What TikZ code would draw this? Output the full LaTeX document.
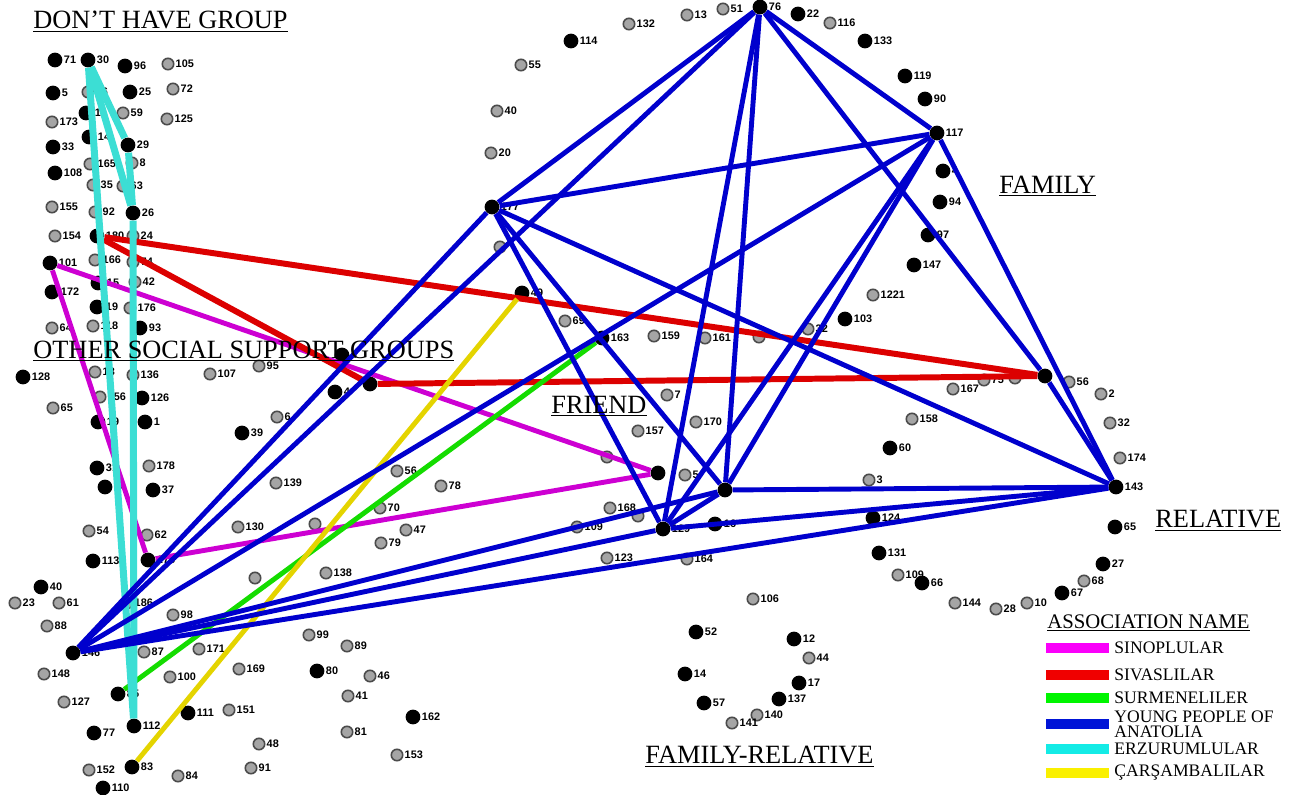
\documentclass[tikz,border=0pt]{standalone}
\usepackage{fontspec}
\setmainfont{Liberation Serif}
\newfontfamily\numfont{Liberation Sans}
\usetikzlibrary{positioning}
\definecolor{sinoc}{RGB}{205,0,210}
\definecolor{sivasc}{RGB}{220,0,0}
\definecolor{surmc}{RGB}{20,220,0}
\definecolor{ypac}{RGB}{0,0,205}
\definecolor{erzc}{RGB}{60,222,212}
\definecolor{carsc}{RGB}{228,212,0}
\definecolor{sinobar}{RGB}{250,0,250}
\definecolor{sivasbar}{RGB}{240,0,0}
\definecolor{surmbar}{RGB}{0,245,0}
\definecolor{ypabar}{RGB}{0,20,215}
\definecolor{erzbar}{RGB}{20,235,230}
\definecolor{carsbar}{RGB}{250,240,0}
\definecolor{dotgray}{RGB}{165,165,165}
\definecolor{rimgray}{RGB}{75,75,75}

\begin{document}
\begin{tikzpicture}[x=0.02cm, y=-0.02cm,
  bdot/.style={circle, fill=black, inner sep=0pt, minimum size=8.4pt, label distance=0.4pt},
  gdot/.style={circle, fill=dotgray, draw=rimgray, line width=0.9pt, inner sep=0pt, minimum size=6.5pt, label distance=0.4pt},
  lbl/.style={font=\numfont\bfseries\fontsize{6.2}{6.2}\selectfont, inner sep=0.5pt},
  ttl/.style={font=\fontsize{15}{15}\selectfont, inner sep=0pt, anchor=base west},
  sino/.style={draw=sinoc, line width=2.8pt},
  sivas/.style={draw=sivasc, line width=3.4pt},
  surm/.style={draw=surmc, line width=2.8pt},
  ypa/.style={draw=ypac, line width=2.8pt},
  erz/.style={draw=erzc, line width=4pt},
  cars/.style={draw=carsc, line width=2.8pt},
  bar/.style={minimum width=1.26cm, minimum height=0.21cm, inner sep=0pt},
  legtxt/.style={font=\fontsize{10}{7.6}\selectfont, inner sep=0pt, anchor=west, align=left}]
\useasboundingbox (0,0) rectangle (1289,795);

% members without an association
\foreach \nm/\lb/\x/\y in {g105/105/168/64, g16a/16/88/92, g72/72/173/89, g59/59/123/113,
  g125/125/167/119, g173/173/52/122, g165/165/90/164, g8/8/132/163, g35/35/93/185,
  g63/63/123/186, g155/155/52/207, g92/92/95/212, g154/154/55/236, g24/24/133/236,
  g166/166/95/260, g74/74/133/262, g42/42/135/282, g176/176/130/308, g64/64/52/328,
  g118/118/93/326, g13/13/95/372, g136/136/133/375, g65b/65/53/408, g156/156/100/397,
  g107/107/210/374, g178/178/149/466, g54/54/89/531, g62/62/147/535, g23/23/15/603,
  g61/61/59/603, g186/186/127/603, g98/98/173/615, g88/88/47/626, g87/87/144/652,
  g171/171/199/649, g148/148/44/674, g100/100/170/677, g169/169/239/669, g127/127/64/702,
  g151/151/229/710, g152/152/89/770, g84/84/178/776, g99/99/309/635, g89/89/347/646,
  g46/46/370/676, g41/41/348/696, g81/81/347/732, g48/48/259/744, g153/153/397/755,
  g91/91/251/768, g95/95/259/366, g6/6/277/417, g139/139/276/483, g56/56/397/471,
  g78/78/441/486, g70/70/380/508, g130/130/238/527, g9//315/524, g47/47/406/530,
  g79/79/381/543, g138/138/326/573, g11//255/578, g132/132/629/24, g13b/13/687/15,
  g51/51/723/9, g55/55/521/65, g40/40/497/111, g20/20/491/153, g82//500/247,
  g116/116/830/23, g1221/1221/873/295, g32a//759/337, g02/32/808/329, g56b/56/1069/382,
  g2/2/1101/394, g32/32/1110/423, g174/174/1120/458, g167/167/953/389, g75/75/984/380,
  g15x//1015/378, g158/158/912/419, g3/3/869/480, g109b/109/898/575, g144/144/955/603,
  g28/28/996/609, g10/10/1027/603, g68/68/1084/581, g69/69/565/321, g159/159/654/336,
  g161/161/705/338, g7/7/667/395, g170/170/696/422, g157/157/638/431, g5f//607/457,
  g5b/5/685/475, g168/168/610/508, g18//638/516, g109/109/577/527, g123/123/607/558,
  g164/164/687/559, g106/106/753/599, g44/44/809/658, g140/140/757/715, g141/141/732/723}
  \node[gdot, label={[lbl]0:\lb}] (\nm) at (\x,\y) {};

% members of an association
\foreach \nm/\lb/\x/\y in {n71/71/55/60, n30/30/88/60, n96/96/125/66, n5/5/53/93,
  n25/25/130/92, n1a/1/86/113, n14/14/89/137, n29/29/128/145, n33/33/53/147,
  n108/108/55/173, n26/26/133/213, n180/180/97/236, n101/101/50/263, n172/172/52/292,
  n15/15/98/283, n19a/19/97/307, n93/93/140/328, n128/128/23/377, n126/126/142/398,
  n19/19/98/422, n1/1/145/422, n31/31/97/468, n34/34/105/487, n37/37/153/490,
  n113/113/93/561, n175/175/148/560, n40/40/41/587, n146/146/73/653, n85/85/118/694,
  n111/111/188/713, n112/112/134/726, n77/77/94/733, n83/83/132/767, n110/110/103/788,
  n80/80/317/671, n162/162/413/717, n4a/4/342/355, n4b/4/335/392, nX//370/384,
  n39/39/242/433, n114/114/571/41, n76/76/760/7, n177/177/492/207, n22/22/798/14,
  n133/133/865/41, n119/119/905/76, n90/90/925/99, n117/117/937/133, n4c/4/943/171,
  n94/94/940/202, n97/97/928/235, n147/147/914/265, n103/103/845/319, nfam//1045/376,
  n143/143/1116/487, n65/65/1115/527, n60/60/890/448, n124/124/873/518, n131/131/879/553,
  n66/66/922/583, n67/67/1062/593, n27/27/1103/564, n49/49/522/293, n163/163/602/338,
  nfr//658/473, n171//725/490, n129/129/663/529, n16/16/715/524, n52/52/696/632,
  n12/12/794/639, n14b/14/685/674, n17/17/799/683, n57/57/704/703, n137/137/779/699}
  \node[bdot, label={[lbl]0:\lb}] (\nm) at (\x,\y) {};

% ties
\foreach \a/\b in {n101/nfr, n101/n175, n175/nfr}
  \draw[sino] (\a) -- (\b);
\foreach \a/\b in {n180/nfam, n180/nX, nX/nfam}
  \draw[sivas] (\a) -- (\b);
\draw[surm] (n85) -- (n163);
\draw[cars] (n83) -- (n49);
\foreach \a/\b in {n30/n29, n30/n26, n29/n26, n30/n112, n26/n112}
  \draw[erz] (\a) -- (\b);
\foreach \a/\b in {n76/n177, n76/n117, n76/nfam, n76/n129, n76/n171, n76/n146,
  n117/n177, n117/n146, n117/n129, n117/n171, n117/n143, nfam/n143,
  n177/n143, n177/n146, n177/n129, n177/n171, n146/n129, n146/n171,
  n146/n143, n129/n171, n129/n143, n171/n143}
  \draw[ypa] (\a) -- (\b);

% group titles
\node[ttl] (tnone) at (33,28) {\underline{DON’T HAVE GROUP}};
\node[ttl] (tother) at (33,358) {\underline{OTHER SOCIAL SUPPORT GROUPS}};
\node[ttl] (tfriend) at (551,413) {\underline{FRIEND}};
\node[ttl] (tfamily) at (999,193) {\underline{FAMILY}};
\node[ttl] (trel) at (1155,527) {\underline{RELATIVE}};
\node[ttl] (tfamrel) at (645,763) {\underline{FAMILY-RELATIVE}};

% legend
\node[ttl, font=\fontsize{11.8}{12}\selectfont] (tleg) at (1047,628) {\underline{ASSOCIATION NAME}};
\node[bar, fill=sinobar] (lg1) at (1077,648) {};
\node[bar, fill=sivasbar] (lg2) at (1077,675) {};
\node[bar, fill=surmbar] (lg3) at (1077,698) {};
\node[bar, fill=ypabar] (lg4) at (1077,724) {};
\node[bar, fill=erzbar] (lg5) at (1077,749) {};
\node[bar, fill=carsbar] (lg6) at (1077,773) {};
\node[legtxt, right=3pt of lg1] {SINOPLULAR};
\node[legtxt, right=3pt of lg2] {SIVASLILAR};
\node[legtxt, right=3pt of lg3] {SURMENELILER};
\node[legtxt, right=3pt of lg4] {YOUNG PEOPLE OF\\[0.8pt]ANATOLIA};
\node[legtxt, right=3pt of lg5] {ERZURUMLULAR};
\node[legtxt, right=3pt of lg6] {ÇARŞAMBALILAR};
\end{tikzpicture}
\end{document}
